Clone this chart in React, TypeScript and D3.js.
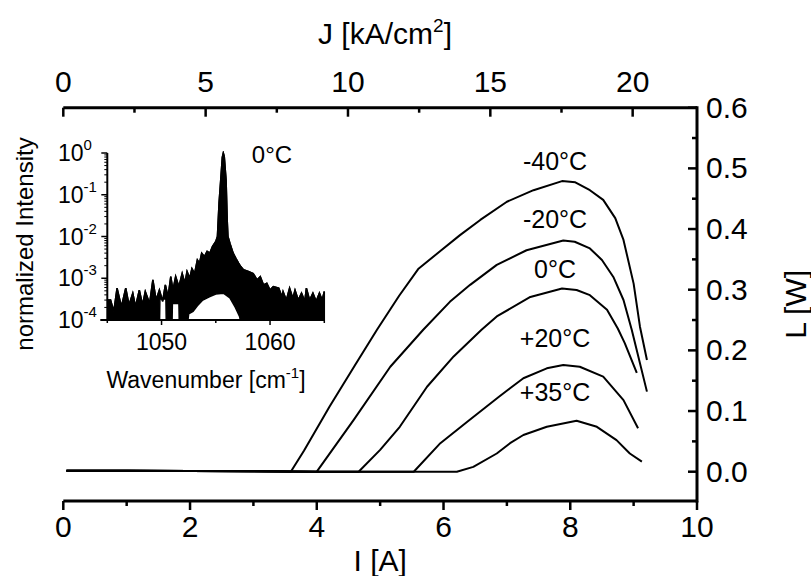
import React from 'react';
import * as d3 from 'd3';

const W = 811;
const H = 576;

// ---- main axes ----
const currentTicks = [0, 2, 4, 6, 8, 10];
const currentMinorTicks = [1, 3, 5, 7, 9];
const densityTicks = [0, 5, 10, 15, 20];
const densityMinorTicks = [2.5, 7.5, 12.5, 17.5];
const powerTicks = [0, 0.1, 0.2, 0.3, 0.4, 0.5, 0.6];
const powerMinorTicks = [0.05, 0.15, 0.25, 0.35, 0.45, 0.55];
const densityPerAmp = 2.226; // kA/cm^2 per A

// ---- L-I curves [I (A), L (W)] ----
const curveM40: [number, number][] = [
  [0.05, 0.0016], [1, 0.0014], [2, 0.0011], [3, 0.0006], [3.5, 0.0002], [3.59, 0.0],
  [3.8, 0.035], [4.2, 0.107], [4.6, 0.175], [4.95, 0.234], [5.3, 0.29], [5.6, 0.334],
  [5.94, 0.363], [6.26, 0.39], [6.58, 0.415], [7.0, 0.445], [7.42, 0.464], [7.87, 0.479],
  [8.08, 0.477], [8.31, 0.464], [8.52, 0.448], [8.71, 0.418], [8.84, 0.382], [9.0, 0.31],
  [9.1, 0.239], [9.21, 0.184],
];
const curveM20: [number, number][] = [
  [0.05, 0.0016], [1, 0.0014], [2, 0.0011], [3, 0.0006], [3.6, 0.0002], [4.0, 0.0],
  [4.58, 0.085], [5.16, 0.173], [5.68, 0.234], [6.1, 0.28], [6.42, 0.308], [6.84, 0.341],
  [7.31, 0.365], [7.89, 0.381], [8.07, 0.379], [8.31, 0.368], [8.5, 0.349], [8.68, 0.321],
  [8.84, 0.283], [8.97, 0.234], [9.21, 0.132],
];
const curve0: [number, number][] = [
  [0.05, 0.0016], [1, 0.0014], [2, 0.0011], [3, 0.0006], [4.0, 0.0001], [4.66, 0.0],
  [5.0, 0.036], [5.31, 0.074], [5.74, 0.14], [6.16, 0.19], [6.6, 0.234], [6.84, 0.256],
  [7.37, 0.288], [7.87, 0.302], [8.1, 0.2995], [8.31, 0.291], [8.58, 0.267], [8.75, 0.236],
  [8.86, 0.212], [9.05, 0.163],
];
const curveP20: [number, number][] = [
  [0.05, 0.0016], [1, 0.0014], [2, 0.0011], [3, 0.0006], [4.0, 0.0001], [5.53, 0.0],
  [5.95, 0.047], [6.37, 0.082], [6.87, 0.123], [7.05, 0.1375], [7.26, 0.154], [7.63, 0.1704],
  [7.89, 0.176], [8.15, 0.173], [8.52, 0.1566], [8.84, 0.118], [9.07, 0.0715],
];
const curveP35: [number, number][] = [
  [0.05, 0.0016], [1, 0.0014], [2, 0.0011], [3, 0.0006], [4.0, 0.0001], [6.21, 0.0],
  [6.47, 0.008], [6.84, 0.03], [7.05, 0.047], [7.26, 0.0605], [7.63, 0.074], [8.1, 0.084],
  [8.42, 0.074], [8.73, 0.052], [8.94, 0.03], [9.13, 0.0165],
];
const curves = [curveM40, curveM20, curve0, curveP20, curveP35];
const temperatures = ['-40°C', '-20°C', '0°C', '+20°C', '+35°C'];
const labelCurrent = [7.76, 7.76, 7.76, 7.76, 7.76];
const labelPower = [0.497, 0.402, 0.319, 0.2055, 0.1165];

// ---- inset spectrum (wavenumber cm^-1, normalized intensity) ----
const waveTicks = [1050, 1060];
const waveMinorTicks = [1045, 1055, 1065];
const intensityDecades = [0, -1, -2, -3, -4];
const spectrumUpper: [number, number][] = [
  [1045.0, 3.0e-4], [1045.3, 3.0e-4], [1045.6, 1.6e-4], [1045.9, 5.8e-4], [1046.3, 2.1e-4],
  [1046.7, 5.8e-4], [1047.0, 2.3e-4], [1047.35, 4.4e-4], [1047.6, 2.1e-4], [1047.95, 5.2e-4],
  [1048.25, 2.3e-4], [1048.5, 4.8e-4], [1048.9, 2.5e-4], [1049.2, 9.1e-4], [1049.5, 3.0e-4],
  [1049.8, 5.2e-4], [1050.1, 2.8e-4], [1050.35, 6.9e-4], [1050.6, 3.6e-4], [1050.85, 1.1e-3],
  [1051.05, 5.2e-4], [1051.3, 1.1e-3], [1051.6, 6.3e-4], [1051.9, 1.3e-3], [1052.15, 7.6e-4],
  [1052.35, 1.45e-3], [1052.6, 1.0e-3], [1052.8, 1.7e-3], [1053.05, 1.3e-3], [1053.3, 2.75e-3],
  [1053.5, 2.3e-3], [1053.7, 4.0e-3], [1053.95, 3.3e-3], [1054.2, 4.4e-3], [1054.45, 4.0e-3],
  [1054.7, 5.8e-3], [1055.0, 7.6e-3], [1055.15, 1.0e-2], [1055.3, 6.3e-2], [1055.45, 0.22],
  [1055.6, 0.79], [1055.69, 1.0], [1055.78, 0.83], [1055.95, 0.22], [1056.05, 2.5e-2],
  [1056.12, 1.0e-2], [1056.3, 6.9e-3], [1056.6, 4.0e-3], [1056.85, 3.0e-3], [1057.1, 2.3e-3],
  [1057.3, 1.9e-3], [1057.55, 1.6e-3], [1058.0, 1.45e-3], [1058.45, 1.3e-3], [1058.8, 9.1e-4],
  [1059.1, 1.1e-3], [1059.4, 6.9e-4], [1059.7, 7.6e-4], [1060.0, 5.2e-4], [1060.3, 6.3e-4],
  [1060.8, 5.8e-4], [1061.1, 3.6e-4], [1061.2, 4.8e-4], [1061.5, 3.0e-4], [1061.8, 5.8e-4],
  [1062.1, 3.3e-4], [1062.3, 5.2e-4], [1062.6, 3.0e-4], [1062.9, 4.4e-4], [1063.2, 2.8e-4],
  [1063.35, 5.8e-4], [1063.65, 3.0e-4], [1063.95, 4.4e-4], [1064.25, 2.8e-4], [1064.55, 4.4e-4],
  [1064.8, 3.0e-4], [1065.0, 4.8e-4],
];
const spectrumLower: [number, number][] = [
  [1045.0, 5e-5], [1049.8, 5e-5], [1049.85, 3.2e-4], [1050.4, 3.2e-4], [1050.45, 5e-5],
  [1050.95, 5e-5], [1051.0, 2.5e-4], [1051.6, 2.5e-4], [1051.65, 5e-5], [1052.3, 5e-5],
  [1052.5, 1.4e-4], [1052.9, 1.6e-4], [1053.3, 2.2e-4], [1053.8, 3.0e-4], [1054.4, 3.6e-4],
  [1055.0, 4.2e-4], [1055.7, 4.4e-4], [1056.3, 3.4e-4], [1056.8, 2.0e-4], [1057.2, 1.2e-4],
  [1057.45, 5e-5], [1065.0, 5e-5],
];

const FONT = "'Liberation Sans', Arial, Helvetica, sans-serif";

export default function App() {
  // main scales
  const x = d3.scaleLinear().domain([0, 10]).range([63.3, 697]);
  const xTop = d3.scaleLinear().domain([0, 10 * densityPerAmp]).range([63.3, 697]);
  const y = d3.scaleLinear().domain([0, 0.6]).range([471.7, 107.7]);
  const yBottom = 501;
  const yTopAxis = y(0.6);
  const xRight = x(10);

  const line = d3
    .line<[number, number]>()
    .x((d) => x(d[0]))
    .y((d) => y(d[1]));

  // inset scales
  const ix = d3.scaleLinear().domain([1045, 1065]).range([107.3, 324.3]);
  const iy = d3.scaleLog().domain([1e-4, 1]).range([320, 153]);
  const iLine = d3
    .line<[number, number]>()
    .x((d) => ix(d[0]))
    .y((d) => iy(d[1]));
  const spectrumPoly = [...spectrumUpper, ...spectrumLower.slice().reverse()];
  const minorLog: number[] = [];
  for (let d = -4; d < 0; d++) for (let k = 2; k <= 9; k++) minorLog.push(k * Math.pow(10, d));

  const axisW = 3;
  const tickW = 2.5;

  return (
    <svg
      width={W}
      height={H}
      style={{ position: 'absolute', left: 0, top: 0, background: '#fff' }}
      fontFamily={FONT}
    >
      <rect x={0} y={0} width={W} height={H} fill="#fff" />
      <defs>
        <clipPath id="insetClip">
          <rect x={ix(1045)} y={iy(1) - 2} width={ix(1065) - ix(1045) + 2} height={iy(1e-4) - iy(1) + 2} />
        </clipPath>
      </defs>

      {/* curves */}
      {curves.map((c, i) => (
        <path key={i} d={line(c) || ''} fill="none" stroke="#000" strokeWidth={2} strokeLinejoin="round" />
      ))}
      {temperatures.map((t, i) => (
        <text key={t} x={x(labelCurrent[i])} y={y(labelPower[i])} fontSize={25} textAnchor="middle" fill="#000">
          {t}
        </text>
      ))}

      {/* bottom axis */}
      <line x1={x(0)} x2={xRight} y1={yBottom} y2={yBottom} stroke="#000" strokeWidth={axisW} />
      {currentTicks.map((t) => (
        <g key={'b' + t}>
          <line x1={x(t)} x2={x(t)} y1={yBottom} y2={yBottom + 9} stroke="#000" strokeWidth={tickW} />
          <text x={x(t)} y={537} fontSize={30} textAnchor="middle">{t}</text>
        </g>
      ))}
      {currentMinorTicks.map((t) => (
        <line key={'bm' + t} x1={x(t)} x2={x(t)} y1={yBottom} y2={yBottom + 5} stroke="#000" strokeWidth={tickW} />
      ))}
      <text x={(x(0) + xRight) / 2} y={571} fontSize={30} textAnchor="middle">I [A]</text>

      {/* top axis */}
      <line x1={x(0)} x2={xRight} y1={yTopAxis} y2={yTopAxis} stroke="#000" strokeWidth={axisW} />
      {densityTicks.map((t) => (
        <g key={'t' + t}>
          <line x1={xTop(t)} x2={xTop(t)} y1={yTopAxis} y2={yTopAxis + 9} stroke="#000" strokeWidth={tickW} />
          <text x={xTop(t)} y={92} fontSize={30} textAnchor="middle">{t}</text>
        </g>
      ))}
      {densityMinorTicks.map((t) => (
        <line key={'tm' + t} x1={xTop(t)} x2={xTop(t)} y1={yTopAxis} y2={yTopAxis + 5} stroke="#000" strokeWidth={tickW} />
      ))}
      <text x={385} y={44} fontSize={30} textAnchor="middle">
        J [kA/cm<tspan fontSize={19} dy={-12}>2</tspan><tspan dy={12}>]</tspan>
      </text>

      {/* right axis */}
      <line x1={xRight} x2={xRight} y1={yTopAxis - 1.5} y2={yBottom + 1.5} stroke="#000" strokeWidth={axisW} />
      {powerTicks.map((t) => (
        <g key={'r' + t}>
          <line x1={xRight} x2={xRight - 9} y1={y(t)} y2={y(t)} stroke="#000" strokeWidth={tickW} />
          <text x={706} y={y(t) + 10} fontSize={30} textAnchor="start">{t.toFixed(1)}</text>
        </g>
      ))}
      {powerMinorTicks.map((t) => (
        <line key={'rm' + t} x1={xRight} x2={xRight - 5} y1={y(t)} y2={y(t)} stroke="#000" strokeWidth={tickW} />
      ))}
      <text transform={`translate(806, ${(yTopAxis + yBottom) / 2}) rotate(-90)`} fontSize={30} textAnchor="middle">
        L [W]
      </text>

      {/* inset */}
      <g clipPath="url(#insetClip)">
        <path d={(iLine(spectrumPoly) || '') + 'Z'} fill="#000" stroke="#000" strokeWidth={1.5} strokeLinejoin="miter" />
        <path d={iLine(spectrumUpper) || ''} fill="none" stroke="#000" strokeWidth={1.5} />
      </g>
      <line x1={ix(1045)} x2={ix(1045)} y1={iy(1)} y2={iy(1e-4)} stroke="#000" strokeWidth={2} />
      <line x1={ix(1045) - 7} x2={ix(1065)} y1={iy(1e-4)} y2={iy(1e-4)} stroke="#000" strokeWidth={2} />
      {intensityDecades.map((d) => (
        <g key={'id' + d}>
          <line x1={ix(1045)} x2={ix(1045) - 6} y1={iy(Math.pow(10, d))} y2={iy(Math.pow(10, d))} stroke="#000" strokeWidth={1.5} />
          <text x={58} y={iy(Math.pow(10, d)) + 8} fontSize={23}>
            10<tspan fontSize={15} dy={-11}>{d}</tspan>
          </text>
        </g>
      ))}
      {minorLog.map((v, i) => (
        <line key={'ml' + i} x1={ix(1045)} x2={ix(1045) - 3} y1={iy(v)} y2={iy(v)} stroke="#000" strokeWidth={1} />
      ))}
      {waveTicks.map((t) => (
        <g key={'w' + t}>
          <line x1={ix(t)} x2={ix(t)} y1={iy(1e-4)} y2={iy(1e-4) + 5} stroke="#000" strokeWidth={1.5} />
          <text x={ix(t)} y={350} fontSize={23} textAnchor="middle">{t}</text>
        </g>
      ))}
      {waveMinorTicks.map((t) => (
        <line key={'wm' + t} x1={ix(t)} x2={ix(t)} y1={iy(1e-4)} y2={iy(1e-4) + 3} stroke="#000" strokeWidth={1.5} />
      ))}
      <text x={206} y={388} fontSize={23} textAnchor="middle">
        Wavenumber [cm<tspan fontSize={15} dy={-10}>-1</tspan><tspan dy={10}>]</tspan>
      </text>
      <text transform={`translate(33, 244) rotate(-90)`} fontSize={24} textAnchor="middle">
        normalized Intensity
      </text>
      <text x={272} y={163} fontSize={24} textAnchor="middle">0°C</text>
    </svg>
  );
}
